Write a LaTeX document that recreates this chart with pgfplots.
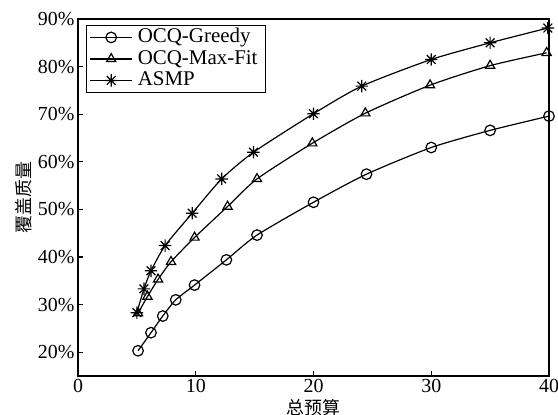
\documentclass[border=0pt]{standalone}
\usepackage{fontspec}
\setmainfont{Liberation Serif}
\newfontfamily\cjk{Noto Sans CJK SC}
\usepackage{pgfplots}
\pgfplotsset{compat=1.18}

% 8-armed asterisk, like the MATLAB '*' marker
\pgfdeclareplotmark{ast8}{%
  \pgfpathmoveto{\pgfqpoint{-\pgfplotmarksize}{0pt}}%
  \pgfpathlineto{\pgfqpoint{\pgfplotmarksize}{0pt}}%
  \pgfpathmoveto{\pgfqpoint{0pt}{-\pgfplotmarksize}}%
  \pgfpathlineto{\pgfqpoint{0pt}{\pgfplotmarksize}}%
  \pgfpathmoveto{\pgfpointpolar{45}{\pgfplotmarksize}}%
  \pgfpathlineto{\pgfpointpolar{225}{\pgfplotmarksize}}%
  \pgfpathmoveto{\pgfpointpolar{135}{\pgfplotmarksize}}%
  \pgfpathlineto{\pgfpointpolar{315}{\pgfplotmarksize}}%
  \pgfusepathqstroke}

\pgfplotstableread{
x     y
5.1   20.3
6.2   24.1
7.2   27.6
8.3   31.0
9.9   34.1
12.6  39.4
15.2  44.6
20.0  51.5
24.5  57.4
30.0  63.0
35.0  66.6
40.0  69.6
}\greedy

\pgfplotstableread{
x     y
5.1   28.2
5.9   31.7
6.8   35.3
7.9   39.0
9.9   44.1
12.7  50.6
15.2  56.4
19.9  63.9
24.4  70.2
29.9  76.1
35.0  80.2
39.8  82.9
}\maxfit

\pgfplotstableread{
x     y
5.0   28.3
5.6   33.3
6.2   37.1
7.4   42.4
9.7   49.2
12.2  56.4
14.9  62.0
20.0  70.1
24.1  75.9
30.0  81.5
35.0  85.0
39.9  88.1
}\asmp

\newcommand\legfont{\fontsize{21}{22}\selectfont}
\newcommand\labfont{\fontsize{18}{20}\selectfont}

\begin{document}
\begin{tikzpicture}
\begin{axis}[
  name=ax,
  scale only axis,
  width=471bp, height=357bp,
  xmin=0, xmax=40, ymin=15, ymax=90,
  xtick={0,10,20,30,40},
  ytick={20,30,...,90},
  yticklabel={\pgfmathprintnumber{\tick}\%},
  tick align=inside,
  xtick pos=left, ytick pos=left,
  major tick length=5bp,
  axis line style={line width=1.3bp},
  every tick/.style={line width=1.1bp, black},
  tick label style={font=\fontsize{20}{22}\selectfont},
  /pgf/number format/assume math mode=true,
  xlabel={\labfont\cjk 总预算},
  ylabel={\labfont\cjk 覆盖质量},
  every axis x label/.style={at={(axis description cs:0.5,-0.088)}, anchor=center, font=\labfont},
  every axis y label/.style={at={(axis description cs:-0.115,0.5)}, rotate=90, anchor=center, font=\labfont},
  every axis plot/.append style={black, line width=1.2bp, mark size=5.3bp, mark options={solid, line width=1.2bp, fill=none}},
  legend cell align=left,
  legend style={at={(0.017,0.983)}, anchor=north west,
    font=\legfont, draw=black, line width=1.2bp,
    inner ysep=1bp, inner xsep=3bp,
    nodes={inner ysep=1bp, inner xsep=5bp, text height=15bp, text depth=4.5bp}},
  legend image code/.code={%
    \draw[mark repeat=2, mark phase=2] plot coordinates {(0bp,0bp) (21bp,0bp) (42bp,0bp)};},
]
\addplot[mark=o, smooth, tension=0.4] table {\greedy};
\addlegendentry{\legfont OCQ-Greedy}
\addplot[mark=triangle, smooth, tension=0.4] table {\maxfit};
\addlegendentry{\legfont OCQ-Max-Fit}
\addplot[mark=ast8, mark size=6.2bp, smooth, tension=0.4] table {\asmp};
\addlegendentry{\legfont ASMP}
\end{axis}
\pgfresetboundingbox
\path[use as bounding box] (ax.south west) ++(-78bp,-39bp) rectangle ([xshift=9bp,yshift=19bp]ax.north east);
\end{tikzpicture}
\end{document}
